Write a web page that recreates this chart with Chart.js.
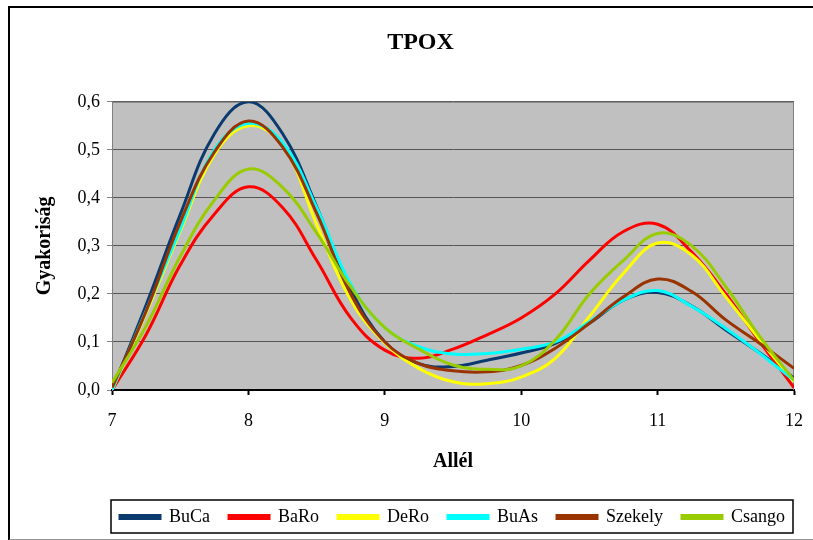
<!DOCTYPE html>
<html>
<head>
<meta charset="utf-8">
<script src="https://cdn.jsdelivr.net/npm/chart.js@4"></script>
<style>
  html, body { margin:0; padding:0; background:#fff; }
  #wrap { position:relative; width:813px; height:540px; overflow:hidden; }
  #frame { position:absolute; left:8px; top:6px; width:820px; height:531px;
           border-left:2px solid #000; border-top:2px solid #000; border-bottom:2px solid #999; }
  canvas { position:absolute; left:0; top:0; }
</style>
</head>
<body>
<div id="wrap">
  <div id="frame"></div>
  <canvas id="tpox" width="813" height="540"></canvas>
</div>
<script>
// allele positions (x axis)
const alleles = [7, 7.25, 7.5, 7.75, 8, 8.25, 8.5, 8.75, 9, 9.25, 9.5, 9.75, 10, 10.25, 10.5, 10.75, 11, 11.25, 11.5, 11.75, 12];

// frequencies, one per allele position
const buCa    = [0, 0.177, 0.365, 0.533, 0.60, 0.534, 0.382, 0.21, 0.10, 0.055, 0.049, 0.062, 0.077, 0.097, 0.139, 0.187, 0.203, 0.175, 0.125, 0.077, 0.025];
const baRo    = [0, 0.115, 0.26, 0.366, 0.423, 0.38, 0.27, 0.15, 0.083, 0.066, 0.085, 0.115, 0.15, 0.20, 0.27, 0.33, 0.345, 0.287, 0.20, 0.10, 0.005];
const deRo    = [0, 0.16, 0.33, 0.49, 0.55, 0.51, 0.345, 0.188, 0.098, 0.045, 0.017, 0.013, 0.027, 0.066, 0.153, 0.243, 0.306, 0.281, 0.194, 0.104, 0.017];
const buAs    = [0, 0.165, 0.335, 0.50, 0.555, 0.515, 0.38, 0.22, 0.13, 0.09, 0.075, 0.076, 0.085, 0.10, 0.142, 0.187, 0.207, 0.174, 0.128, 0.076, 0.02];
const szekely = [0.005, 0.164, 0.349, 0.495, 0.56, 0.506, 0.368, 0.20, 0.10, 0.055, 0.04, 0.038, 0.051, 0.087, 0.139, 0.194, 0.231, 0.205, 0.146, 0.097, 0.045];
const csango  = [0.015, 0.133, 0.278, 0.395, 0.46, 0.422, 0.327, 0.215, 0.13, 0.085, 0.052, 0.043, 0.05, 0.104, 0.20, 0.27, 0.326, 0.30, 0.215, 0.111, 0.02];

const seriesNames = ['BuCa', 'BaRo', 'DeRo', 'BuAs', 'Szekely', 'Csango'];
const seriesData  = [buCa, baRo, deRo, buAs, szekely, csango];
const seriesColors = ['#0a3a6e', '#ff0000', '#ffff00', '#00ffff', '#993300', '#99cc00'];

const serif = "'Liberation Serif', 'Times New Roman', serif";

// gray plot area + thin border on top/right, box round the legend
const plotFrame = {
  id: 'plotFrame',
  beforeDraw(chart) {
    const a = chart.chartArea, ctx = chart.ctx;
    ctx.save();
    ctx.fillStyle = '#c0c0c0';
    ctx.fillRect(a.left, a.top, a.right - a.left, a.bottom - a.top);
    ctx.restore();
  },
  beforeDatasetsDraw(chart) {
    const a = chart.chartArea, ctx = chart.ctx;
    ctx.save();
    ctx.strokeStyle = '#808080'; ctx.lineWidth = 1;
    ctx.beginPath();
    ctx.moveTo(a.left, a.top + 0.5); ctx.lineTo(a.right - 0.5, a.top + 0.5); ctx.lineTo(a.right - 0.5, a.bottom);
    ctx.stroke();
    ctx.restore();
  },
  afterDraw(chart) {
    const a = chart.chartArea, lg = chart.legend, ctx = chart.ctx;
    ctx.save();
    ctx.strokeStyle = '#000'; ctx.lineWidth = 1.5;
    ctx.strokeRect(a.left - 1, lg.top + 11, a.right - a.left, 33);
    ctx.restore();
  }
};

new Chart(document.getElementById('tpox'), {
  type: 'line',
  data: {
    datasets: seriesNames.map((name, i) => ({
      label: name,
      data: alleles.map((x, j) => ({ x: x, y: seriesData[i][j] })),
      borderColor: seriesColors[i],
      backgroundColor: seriesColors[i],
      borderWidth: 3,
      pointRadius: 0,
      tension: 0.4,
      fill: false,
      order: seriesNames.length - i
    }))
  },
  options: {
    responsive: false,
    animation: false,
    layout: { padding: { left: 37, right: 9, top: 6, bottom: 4 } },
    plugins: {
      title: {
        display: true, text: 'TPOX', color: '#000',
        font: { family: serif, size: 24, weight: 'bold' },
        padding: { top: 22, bottom: 45 }
      },
      legend: {
        position: 'bottom', align: 'end',
        labels: {
          color: '#000', font: { family: serif, size: 18 },
          boxWidth: 40, boxHeight: 3, padding: 19,
          sort: (a, b) => a.datasetIndex - b.datasetIndex
        }
      },
      tooltip: { enabled: false }
    },
    scales: {
      x: {
        type: 'linear', min: 7, max: 12,
        afterFit(s) { s.height = 99; s.paddingRight = 19; },
        ticks: { stepSize: 1, color: '#000', padding: 15, font: { family: serif, size: 18 } },
        grid: { drawOnChartArea: false, tickLength: 5, tickColor: '#000', tickWidth: 2 },
        border: { color: '#000', width: 2 },
        title: { display: true, text: 'Allél', color: '#000',
                 font: { family: serif, size: 20, weight: 'bold' }, padding: { top: 0, bottom: 15 } }
      },
      y: {
        min: 0, max: 0.6,
        afterFit(s) { s.width = 75; },
        ticks: { stepSize: 0.1, color: '#000', padding: 7, font: { family: serif, size: 18 },
                 callback: v => v.toFixed(1).replace('.', ',') },
        grid: { color: '#555', borderDash: [2, 2], tickLength: 5, tickColor: '#808080', tickBorderDash: [] },
        border: { color: '#808080', width: 1 },
        title: { display: true, text: 'Gyakoriság', color: '#000',
                 font: { family: serif, size: 20, weight: 'bold' }, padding: { top: -4, bottom: 0 } }
      }
    }
  },
  plugins: [plotFrame]
});
</script>
</body>
</html>
